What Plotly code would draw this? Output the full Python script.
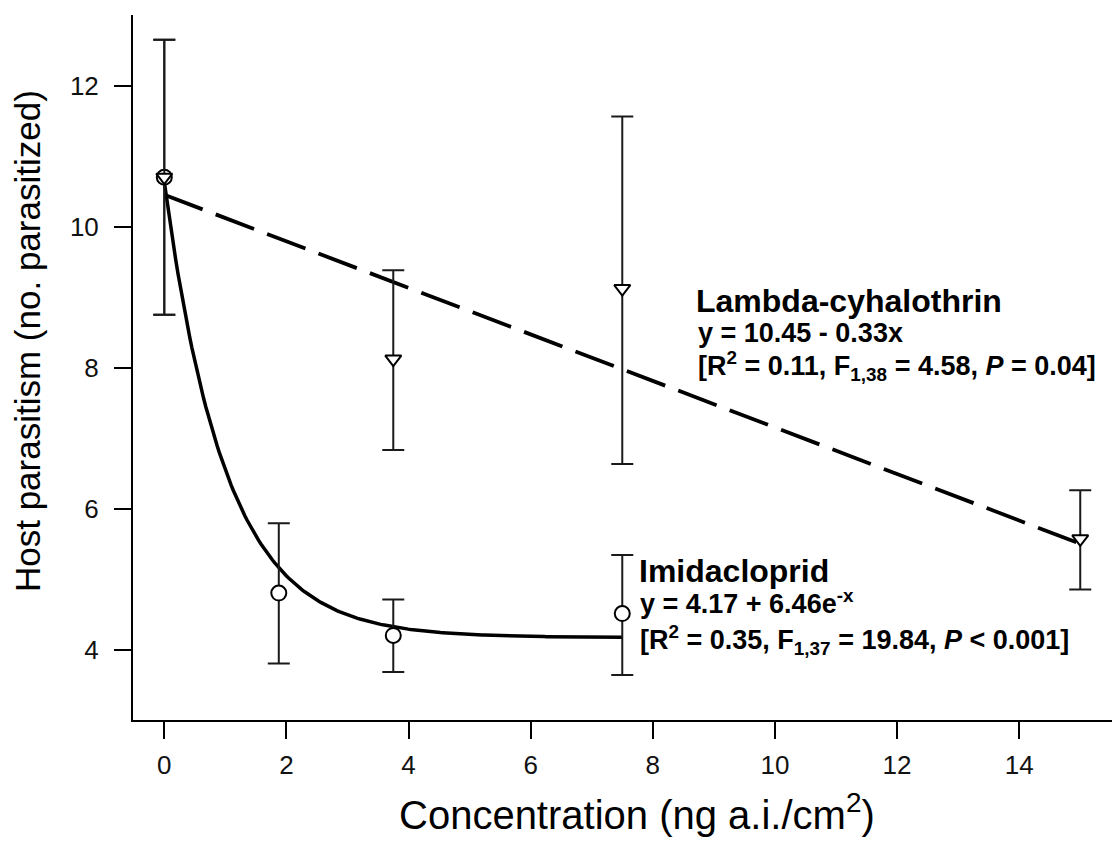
import numpy as np
import plotly.graph_objects as go

# ---- data ----
imid_x = [0, 1.875, 3.75, 7.5]
imid_mean = [10.70, 4.80, 4.20, 4.51]
imid_upper = [12.65, 5.79, 4.71, 5.34]
imid_lower = [8.75, 3.80, 3.68, 3.64]

lam_x = [0, 3.75, 7.5, 15]
lam_mean = [10.70, 8.12, 9.12, 5.57]
lam_upper = [12.65, 9.38, 11.56, 6.26]
lam_lower = [8.75, 6.83, 6.63, 4.85]

# fitted model coefficients printed on the chart
imid_a, imid_b = 4.17, 6.46          # y = a + b e^-x
lam_int, lam_slope = 10.45, -0.33    # y = int + slope x

x_ticks = [0, 2, 4, 6, 8, 10, 12, 14]
y_ticks = [4, 6, 8, 10, 12]

FONT = "Arial, Liberation Sans, sans-serif"

fig = go.Figure()

# fitted curves
xi = np.linspace(0, max(imid_x), 200)
fig.add_trace(go.Scatter(x=xi, y=imid_a + imid_b * np.exp(-xi), mode="lines",
                         line=dict(color="black", width=3.5), showlegend=False,
                         hoverinfo="skip"))
xl = np.array([0, max(lam_x)])
fig.add_trace(go.Scatter(x=xl, y=lam_int + lam_slope * xl, mode="lines",
                         line=dict(color="black", width=3.8, dash="41px,14px"),
                         showlegend=False, hoverinfo="skip"))

def err(mean, up, lo):
    return dict(type="data", symmetric=False,
                array=[u - m for u, m in zip(up, mean)],
                arrayminus=[m - l for m, l in zip(mean, lo)],
                color="#1a1a1a", thickness=2, width=11)

fig.add_trace(go.Scatter(x=imid_x, y=imid_mean, mode="markers",
                         error_y=err(imid_mean, imid_upper, imid_lower),
                         marker=dict(symbol="circle", size=15, color="white",
                                     line=dict(color="black", width=2)),
                         showlegend=False))
fig.add_trace(go.Scatter(x=lam_x, y=lam_mean, mode="markers",
                         error_y=err(lam_mean, lam_upper, lam_lower),
                         marker=dict(symbol="triangle-down", size=14, color="white",
                                     line=dict(color="black", width=2)),
                         showlegend=False))

ann = []
def txt(x, y, s, size, bold=True):
    ann.append(dict(x=x, y=y, xref="x", yref="y", text=s, showarrow=False,
                    xanchor="left", yanchor="middle",
                    font=dict(family=FONT, size=size, color="black",
                              weight="bold" if bold else "normal")))

txt(8.68, 8.94, "Lambda-cyhalothrin", 32)
txt(8.70, 8.49, "y = 10.45 - 0.33x", 27)
txt(8.70, 8.02, "[R<sup>2</sup> = 0.11, F<sub>1,38</sub> = 4.58, <i>P</i> = 0.04]", 27)
txt(7.74, 5.11, "Imidacloprid", 32)
txt(7.76, 4.67, "y = 4.17 + 6.46e<sup>-x</sup>", 27)
txt(7.76, 4.13, "[R<sup>2</sup> = 0.35, F<sub>1,37</sub> = 19.84, <i>P</i> &lt; 0.001]", 27)

# axis titles
ann.append(dict(x=-0.1072, y=0.5376, xref="paper", yref="paper",
                text="Host parasitism (no. parasitized)", textangle=-90,
                showarrow=False, xanchor="center", yanchor="middle",
                font=dict(family=FONT, size=35, color="black")))
ann.append(dict(x=0.515, y=-0.131, xref="paper", yref="paper",
                text="Concentration (ng a.i./cm<sup>2</sup>)",
                showarrow=False, xanchor="center", yanchor="middle",
                font=dict(family=FONT, size=40, color="black")))

fig.update_layout(
    width=1112, height=850,
    margin=dict(l=133, r=0, t=15, b=130),
    paper_bgcolor="white", plot_bgcolor="white",
    annotations=ann,
    xaxis=dict(range=[-0.5125, 15.52], tickvals=x_ticks, showgrid=False,
               zeroline=False, showline=True, linecolor="black", linewidth=2,
               ticks="outside", ticklen=17, tickwidth=2, tickcolor="black",
               ticklabelstandoff=4,
               tickfont=dict(family=FONT, size=26, color="#111")),
    yaxis=dict(range=[3, 13], tickvals=y_ticks, showgrid=False,
               zeroline=False, showline=True, linecolor="black", linewidth=2,
               ticks="outside", ticklen=17, tickwidth=2, tickcolor="black",
               ticklabelstandoff=10,
               tickfont=dict(family=FONT, size=26, color="#111")),
)

fig.write_html("out.html")
